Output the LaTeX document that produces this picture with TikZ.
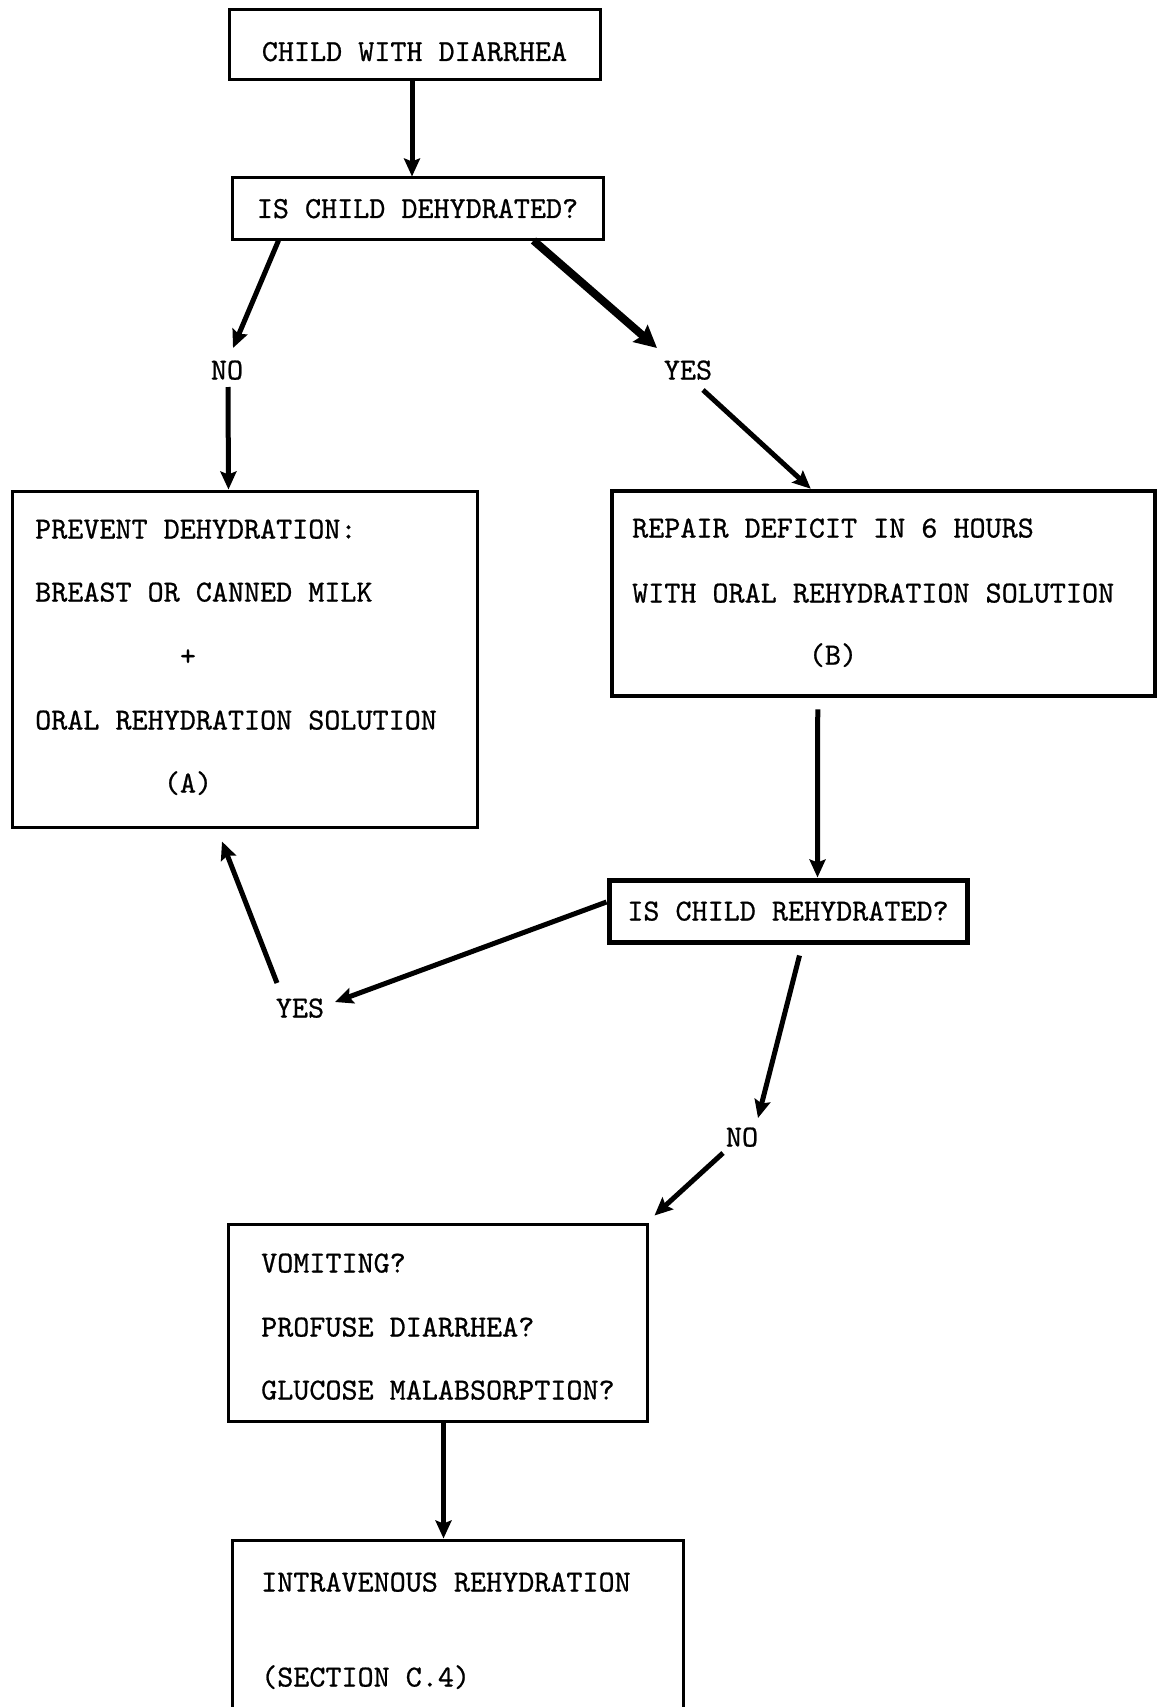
\documentclass[tikz,border=0pt]{standalone}
\usepackage{fontspec}
\usetikzlibrary{arrows.meta}
\newfontfamily\twfam[Extension=.otf,FakeBold=0.7]{lmmono10-regular}
\newcommand\twfont{\twfam\fontsize{30.6}{36}\selectfont}
\begin{document}
\begin{tikzpicture}[x=1pt,y=-1pt,
  box/.style={draw, line width=3pt, inner sep=0pt, font=\twfont},
  ln/.style={font=\twfont, inner sep=0pt, text height=19pt, text depth=0pt, anchor=west},
  lnc/.style={font=\twfont, inner sep=0pt, text height=19pt, text depth=0pt, anchor=center},
  lbl/.style={font=\twfont, inner sep=0pt, text height=19pt, text depth=0pt},
  arr/.style={line width=5pt, -{Stealth[length=18pt,width=16pt,inset=3pt]}},
  arrthick/.style={line width=8pt, -{Stealth[length=22pt,width=22pt,inset=3pt]}}
]
\useasboundingbox (0,0) rectangle (1163,1707);
\fill[white] (0,0) rectangle (1163,1707);
\clip (0,0) rectangle (1163,1707);

% boxes
\node[box, minimum width=371pt, minimum height=70pt, text height=32pt, text depth=0pt] (b1) at (414.5,45) {CHILD WITH DIARRHEA};
\node[box, minimum width=371pt, minimum height=61pt, text height=19pt, text depth=0pt] (b2) at (417.5,208.5) {IS CHILD DEHYDRATED?};
\node[box, minimum width=465pt, minimum height=336pt] (b3) at (244.5,659) {};
\node[box, line width=4.5pt, minimum width=543pt, minimum height=205pt] (b4) at (883.5,593.5) {};
\node[box, line width=5pt, minimum width=358pt, minimum height=62pt, text height=19pt, text depth=0pt] (b5) at (788,911) {IS CHILD REHYDRATED?};
\node[box, minimum width=419pt, minimum height=197pt] (b6) at (437.5,1322.5) {};
\node[box, minimum width=451pt, minimum height=190pt] (b7) at (457.5,1635) {};

% box texts
\node[ln] (t3a) at (35,529) {PREVENT DEHYDRATION:};
\node[ln] (t3b) at (35,592) {BREAST OR CANNED MILK};
\node[lnc] (t3c) at (188,656) {+};
\node[ln] (t3d) at (35,720) {ORAL REHYDRATION SOLUTION};
\node[lnc] (t3e) at (188,783) {(A)};

\node[ln] (t4a) at (632,528) {REPAIR DEFICIT IN 6 HOURS};
\node[ln] (t4b) at (632,593) {WITH ORAL REHYDRATION SOLUTION};
\node[lnc] (t4c) at (833,655) {(B)};

\node[ln] (t6a) at (261,1263) {VOMITING?};
\node[ln] (t6b) at (261,1327) {PROFUSE DIARRHEA?};
\node[ln] (t6c) at (261,1390) {GLUCOSE MALABSORPTION?};

\node[ln] (t7a) at (261,1582) {INTRAVENOUS REHYDRATION};
\node[ln] (t7b) at (261,1677) {(SECTION C.4)};

% labels
\node[lbl] (no1) at (227,370) {NO};
\node[lbl] (yes1) at (688,370) {YES};
\node[lbl] (yes2) at (300,1008) {YES};
\node[lbl] (no2) at (742,1137) {NO};

% connectors
\draw[arr] ([xshift=-2.5pt]b1.south) -- ([xshift=-2.5pt]b1.south |- b2.north);
\draw[arr] ([xshift=48pt]b2.south west) -- ([shift={(6,-22)}]no1.center);
\draw[arr] ([shift={(1,17)}]no1.center) -- ([xshift=218pt]b3.north west);
\draw[arrthick] ([xshift=303pt]b2.south west) -- ([shift={(-31,-22)}]yes1.center);
\draw[arr] ([shift={(15,20)}]yes1.center) -- ([xshift=201pt]b4.north west);
\draw[arr] ([shift={(208,11)}]b4.south west) -- ([xshift=211pt]b5.north west);
\draw[arr] ([yshift=9pt]b5.west) -- ([shift={(35,-6)}]yes2.center);
\draw[arr] ([shift={(-23,-25)}]yes2.center) -- ([shift={(-22.5,13)}]b3.south);
\draw[arr] ([shift={(193,11)}]b5.south west) -- ([shift={(16,-19)}]no2.center);
\draw[arr] ([shift={(-19,16)}]no2.center) -- ([shift={(6,-7)}]b6.north east);
\draw[arr] ([xshift=217pt]b6.south west) -- ([xshift=213pt]b7.north west);
\end{tikzpicture}
\end{document}
